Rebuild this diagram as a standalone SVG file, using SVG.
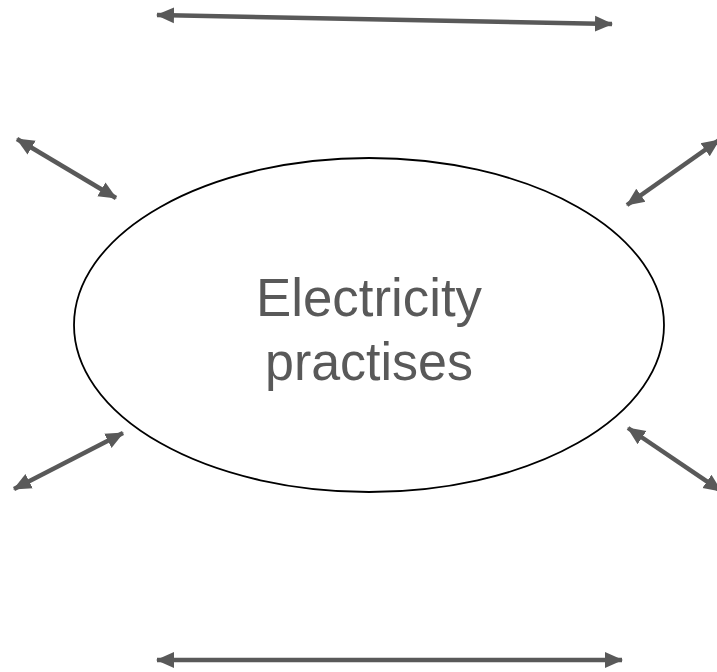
<svg xmlns="http://www.w3.org/2000/svg" width="717" height="672" viewBox="0 0 717 672">
<style>
.conn{stroke:#595959;stroke-width:4.5;fill:none;marker-start:url(#ah);marker-end:url(#ah)}
.lbl{font-family:"Liberation Sans",Arial,sans-serif;font-size:54px;fill:#595959;text-anchor:middle}
</style>
<defs>
<marker id="ah" markerUnits="userSpaceOnUse" markerWidth="18" markerHeight="18" viewBox="0 0 18 18" refX="17" refY="9" orient="auto-start-reverse">
<path d="M0,1 L18,9 L0,17 z" fill="#595959"/>
</marker>
</defs>
<rect width="717" height="672" fill="#ffffff"/>
<g id="node-electricity">
<ellipse cx="369" cy="325" rx="295" ry="167" fill="#ffffff" stroke="#000000" stroke-width="1.8"/>
<text class="lbl" x="369" y="316" textLength="226" lengthAdjust="spacingAndGlyphs">Electricity</text>
<text class="lbl" x="369" y="380" textLength="208" lengthAdjust="spacingAndGlyphs">practises</text>
</g>
<g id="connectors">
<line class="conn" x1="157" y1="15" x2="612" y2="24"/>
<line class="conn" x1="157" y1="660" x2="622" y2="660"/>
<line class="conn" x1="17" y1="139" x2="116" y2="198"/>
<line class="conn" x1="627" y1="205" x2="719" y2="140"/>
<line class="conn" x1="14" y1="489" x2="123" y2="433"/>
<line class="conn" x1="628" y1="428" x2="721" y2="491"/>
</g>
</svg>
